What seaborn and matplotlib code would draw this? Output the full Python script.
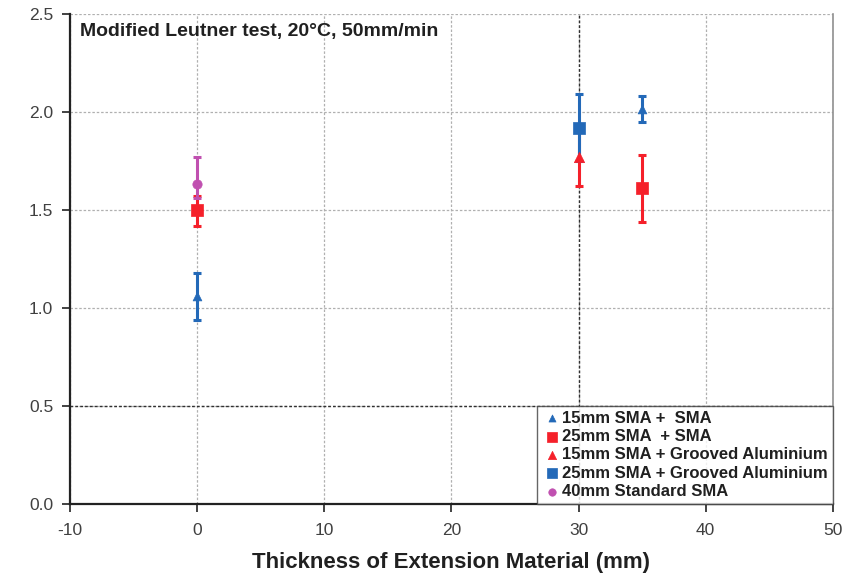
import pandas as pd
import matplotlib
matplotlib.use("Agg")
import matplotlib.pyplot as plt
import seaborn as sns

# ========================
# Data
# ========================
series = ["15mm SMA +  SMA", "25mm SMA  + SMA", "15mm SMA + Grooved Aluminium",
          "25mm SMA + Grooved Aluminium", "40mm Standard SMA"]
x_vals = [[0, 35], [0, 35], [30], [30], [0]]
y_vals = [[1.06, 2.015], [1.50, 1.61], [1.77], [1.92], [1.63]]
err_lo = [[0.12, 0.065], [0.08, 0.17], [0.15], [0.17], [0.07]]
err_hi = [[0.12, 0.065], [0.07, 0.17], [0.15], [0.17], [0.14]]

colors = ["#2369b8", "#f5202a", "#f5202a", "#2369b8", "#c050b0"]
markers = ["^", "s", "^", "s", "o"]
sizes = [40, 75, 55, 75, 45]

rows = []
for name, xs, ys, lo, hi in zip(series, x_vals, y_vals, err_lo, err_hi):
    for x, y, l, h in zip(xs, ys, lo, hi):
        rows.append({"series": name, "x": x, "y": y, "lo": l, "hi": h})
df = pd.DataFrame(rows)

# ========================
# Plot
# ========================
sns.set_style("white")
plt.rcParams['font.family'] = ['Liberation Sans', 'DejaVu Sans']
plt.rcParams['axes.unicode_minus'] = False

fig = plt.figure(figsize=(8.64, 5.81), dpi=100)
ax = fig.add_axes([0.081, 0.1325, 0.883, 0.8435])

for name, c, m, s in zip(series, colors, markers, sizes):
    d = df[df["series"] == name]
    ax.errorbar(d["x"], d["y"], yerr=[d["lo"], d["hi"]], fmt="none",
                ecolor=c, elinewidth=2.2, capsize=3, capthick=2.2, zorder=3)
    sns.scatterplot(data=d, x="x", y="y", color=c, marker=m, s=s,
                    edgecolor=c, linewidth=0.5, label=name, ax=ax, zorder=4)

ax.set_xlim(-10, 50)
ax.set_ylim(0, 2.5)
ax.set_xticks(range(-10, 51, 10))
ax.set_yticks([0, 0.5, 1.0, 1.5, 2.0, 2.5])
ax.set_yticklabels(["0.0", "0.5", "1.0", "1.5", "2.0", "2.5"])
ax.grid(True, color="#b0b0b0", linestyle=(0, (2, 1.5)), linewidth=0.9)
ax.axvline(30, color="#303030", linestyle=(0, (2, 1.5)), linewidth=1.0, zorder=1)
ax.axhline(0.5, color="#303030", linestyle=(0, (2, 1.5)), linewidth=1.0, zorder=1)

for side in ["left", "bottom"]:
    ax.spines[side].set_color("#222222")
    ax.spines[side].set_linewidth(1.6)
ax.spines["right"].set_color("#909090")
ax.spines["right"].set_linewidth(1.2)
ax.spines["top"].set_visible(False)

ax.tick_params(axis="both", which="both", direction="out", length=6, width=1.2,
               color="#222222", labelsize=12.5, labelcolor="#404040",
               left=True, bottom=True)
ax.tick_params(axis="x", pad=8)
ax.tick_params(axis="y", pad=6)
ax.set_xlabel("Thickness of Extension Material (mm)", fontsize=16,
              fontweight="bold", color="#202020", labelpad=10)
ax.set_ylabel("")

ax.text(0.013, 0.965, "Modified Leutner test, 20°C, 50mm/min", transform=ax.transAxes,
        fontsize=14, fontweight="bold", color="#202020", va="center", ha="left")

leg = ax.legend(loc="lower right", bbox_to_anchor=(1.0, 0.0), frameon=True,
                fancybox=False, borderpad=0.3, labelspacing=0.2,
                handletextpad=0.0, handlelength=1.2, borderaxespad=0,
                prop={"weight": "bold", "size": 12}, markerscale=0.8)
leg.get_frame().set_edgecolor("#404040")
leg.get_frame().set_linewidth(1.0)
for t in leg.get_texts():
    t.set_color("#202020")

plt.savefig("out.png", dpi=100)
